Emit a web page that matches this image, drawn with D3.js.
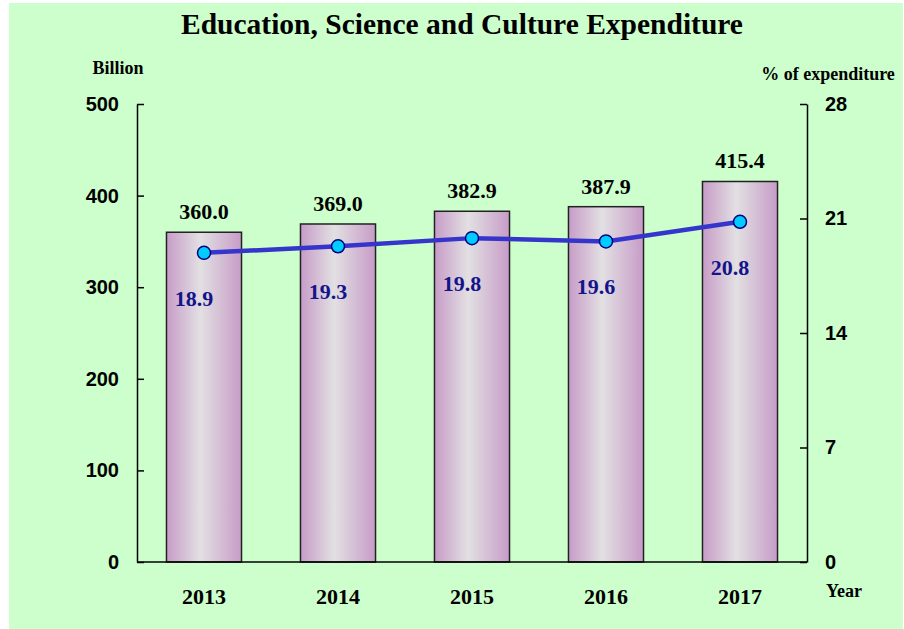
<!DOCTYPE html>
<html>
<head>
<meta charset="utf-8">
<script src="https://cdn.jsdelivr.net/npm/d3@7"></script>
<style>
  html, body { margin: 0; padding: 0; background: #fff; }
  svg { display: block; }
</style>
</head>
<body>
<script>
// chart data
const years = ['2013', '2014', '2015', '2016', '2017'];
const spending = [360.0, 369.0, 382.9, 387.9, 415.4];
const share = [18.9, 19.3, 19.8, 19.6, 20.8];
const leftTicks = [0, 100, 200, 300, 400, 500];
const rightTicks = [0, 7, 14, 21, 28];

const width = 904;
const height = 629;
const margin = { top: 104, left: 137, right: 97, bottom: 67 };
const innerW = width - margin.left - margin.right;
const innerH = height - margin.top - margin.bottom;
const serif = '"Liberation Serif", "Times New Roman", serif';

const svg = d3.select('body').append('svg')
  .attr('width', width)
  .attr('height', height);

svg.append('rect')
  .attr('x', 9).attr('y', 3)
  .attr('width', width - 10).attr('height', height - 3)
  .attr('fill', '#ccffcc');

const defs = svg.append('defs');
const grad = defs.append('linearGradient')
  .attr('id', 'barGrad')
  .attr('x1', '0%').attr('x2', '100%').attr('y1', '0%').attr('y2', '0%');
grad.append('stop').attr('offset', '0%').attr('stop-color', '#c79cc8');
grad.append('stop').attr('offset', '45%').attr('stop-color', '#e2e0e2');
grad.append('stop').attr('offset', '100%').attr('stop-color', '#c79cc8');

const x = d3.scaleBand()
  .domain(years)
  .range([0, innerW])
  .paddingInner(0.44)
  .paddingOuter(0.22);
const y = d3.scaleLinear().domain([0, 500]).range([innerH, 0]);
const yR = d3.scaleLinear().domain([0, 28]).range([innerH, 0]);

const g = svg.append('g').attr('transform', `translate(${margin.left},${margin.top})`);

// bars
g.selectAll('rect.bar')
  .data(years)
  .enter().append('rect')
    .attr('class', 'bar')
    .attr('x', d => x(d))
    .attr('y', (d, i) => y(spending[i]))
    .attr('width', x.bandwidth())
    .attr('height', (d, i) => innerH - y(spending[i]))
    .attr('fill', 'url(#barGrad)')
    .attr('stroke', '#222')
    .attr('stroke-width', 1.5);

// bar value labels
g.selectAll('text.val')
  .data(years)
  .enter().append('text')
    .attr('class', 'val')
    .attr('x', d => x(d) + x.bandwidth() / 2)
    .attr('y', (d, i) => y(spending[i]) - 13)
    .attr('text-anchor', 'middle')
    .style('font-family', serif)
    .style('font-weight', 'bold')
    .style('font-size', '22px')
    .attr('fill', '#000')
    .text((d, i) => spending[i].toFixed(1));

// axes
const axisFont = sel => sel.selectAll('text')
  .style('font-family', '"Liberation Sans", Arial, sans-serif')
  .style('font-weight', 'bold')
  .style('font-size', '20px')
  .attr('fill', '#000');

const leftAxis = g.append('g')
  .call(d3.axisLeft(y).tickValues(leftTicks).tickSize(-7).tickPadding(18).tickSizeOuter(0));
leftAxis.call(axisFont);
const rightAxis = g.append('g')
  .attr('transform', `translate(${innerW},0)`)
  .call(d3.axisRight(yR).tickValues(rightTicks).tickSize(-7).tickPadding(18).tickSizeOuter(0));
rightAxis.call(axisFont);
g.selectAll('.domain').attr('stroke', '#000').attr('stroke-width', 1.5);
g.selectAll('.tick line').attr('stroke', '#000').attr('stroke-width', 1.5);

g.append('line')
  .attr('x1', 0).attr('x2', innerW)
  .attr('y1', innerH).attr('y2', innerH)
  .attr('stroke', '#000').attr('stroke-width', 1.5);

// year labels
g.selectAll('text.year')
  .data(years)
  .enter().append('text')
    .attr('class', 'year')
    .attr('x', d => x(d) + x.bandwidth() / 2)
    .attr('y', innerH + 42)
    .attr('text-anchor', 'middle')
    .style('font-family', serif)
    .style('font-weight', 'bold')
    .style('font-size', '22px')
    .text(d => d);

// share line
const line = d3.line()
  .x((d, i) => x(years[i]) + x.bandwidth() / 2)
  .y(d => yR(d));
g.append('path')
  .datum(share)
  .attr('d', line)
  .attr('fill', 'none')
  .attr('stroke', '#3535cc')
  .attr('stroke-width', 4.5);

g.selectAll('circle')
  .data(share)
  .enter().append('circle')
    .attr('cx', (d, i) => x(years[i]) + x.bandwidth() / 2)
    .attr('cy', d => yR(d))
    .attr('r', 6.5)
    .attr('fill', '#00ccff')
    .attr('stroke', '#000080')
    .attr('stroke-width', 1.5);

g.selectAll('text.share')
  .data(share)
  .enter().append('text')
    .attr('class', 'share')
    .attr('x', (d, i) => x(years[i]) + x.bandwidth() / 2 - 10)
    .attr('y', d => yR(d) + 53)
    .attr('text-anchor', 'middle')
    .style('font-family', serif)
    .style('font-weight', 'bold')
    .style('font-size', '22px')
    .attr('fill', '#14148a')
    .text(d => d.toFixed(1));

// titles
svg.append('text')
  .attr('x', 462).attr('y', 34)
  .attr('text-anchor', 'middle')
  .style('font-family', serif).style('font-weight', 'bold').style('font-size', '29.5px')
  .text('Education, Science and Culture Expenditure');
svg.append('text')
  .attr('x', 118).attr('y', 74)
  .attr('text-anchor', 'middle')
  .style('font-family', serif).style('font-weight', 'bold').style('font-size', '18px')
  .text('Billion');
svg.append('text')
  .attr('x', 828).attr('y', 80)
  .attr('text-anchor', 'middle')
  .style('font-family', serif).style('font-weight', 'bold').style('font-size', '18px')
  .text('%  of expenditure');
svg.append('text')
  .attr('x', 844).attr('y', 597)
  .attr('text-anchor', 'middle')
  .style('font-family', serif).style('font-weight', 'bold').style('font-size', '18px')
  .text('Year');
</script>
</body>
</html>
